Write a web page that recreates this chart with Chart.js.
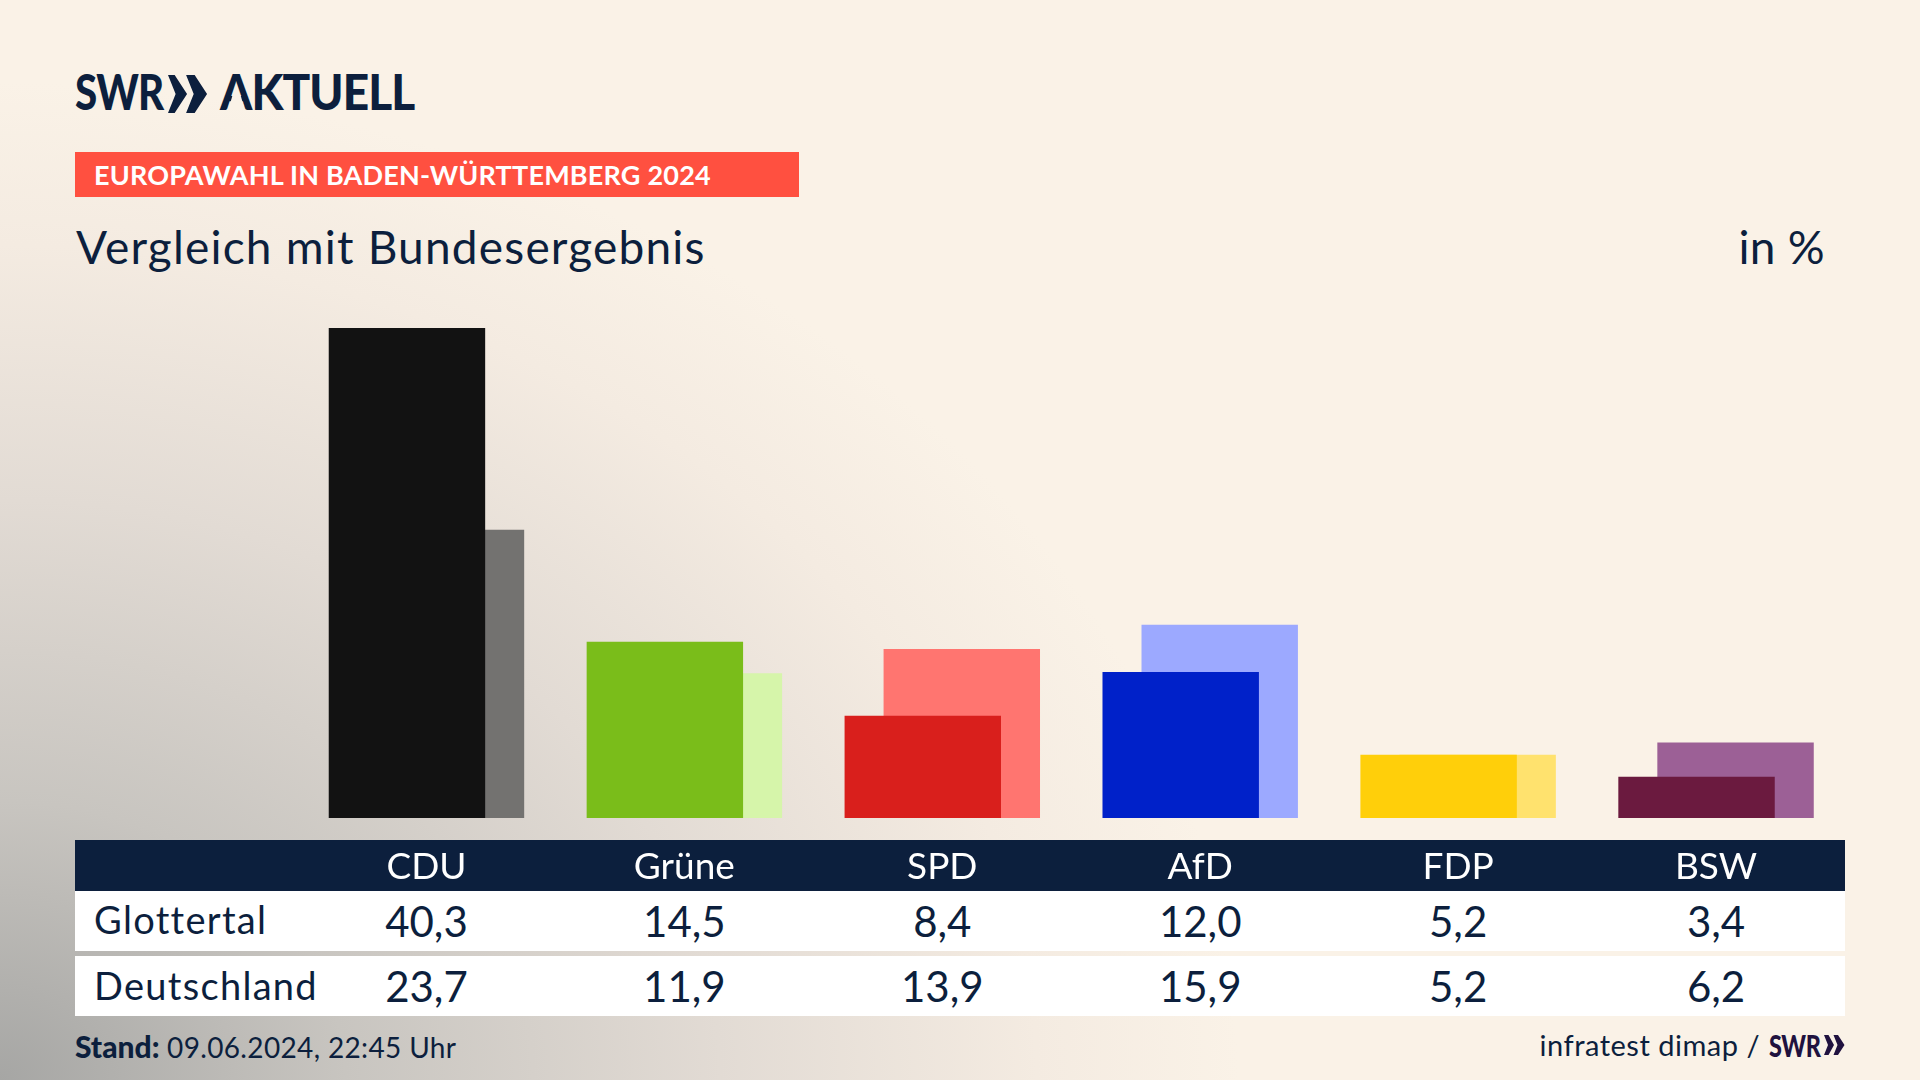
<!DOCTYPE html>
<html lang="de"><head><meta charset="utf-8">
<script src="https://cdn.jsdelivr.net/npm/chart.js@4"></script>
<style>
html,body{margin:0;padding:0;width:1920px;height:1080px;overflow:hidden}
body{position:relative;background:radial-gradient(ellipse 1440px 1160px at 0 100%,#a6a6a4 0,#c8c5c0 24%,#e2dbd4 50%,#f4ebe1 72%,#faf2e7 86%);font-family:Lato,sans-serif;color:#0c1f3d}
canvas{position:absolute;left:0;top:0;z-index:2}
.a{position:absolute;white-space:nowrap}
.band{position:absolute;left:75px;width:1770px}
.cell{position:absolute;transform:translateX(-50%);font-size:42px;line-height:50px;white-space:nowrap}
.sx{transform-origin:0 0}
</style></head><body>
<div class="a sx" style="left:75px;top:60px;font:900 50px/62px Lato,sans-serif;transform:scaleX(.806);letter-spacing:-1px">SWR</div>
<svg class="a" width="40" height="40" viewBox="0 0 42 40" style="left:168px;top:74px"><path fill="#0c1f3d" d="M0 0 L7 0 L20 20 L7 40 L0 40 L8 20Z M19 0 L28 0 L41 20 L28 40 L19 40 L27 20Z"/></svg>
<div class="a sx" style="left:220px;top:60px;font:900 50px/62px Lato,sans-serif;transform:scaleX(.92);letter-spacing:-1px"><span style="position:relative;display:inline-block">A<i style="position:absolute;left:9px;top:35px;width:18px;height:15px;background:#faf2e7;clip-path:polygon(26% 0,74% 0,100% 100%,0 100%)"></i></span>KTUELL</div>
<div class="a" style="left:75px;top:152px;width:724px;height:45px;background:#ff5040"></div>
<div class="a" style="left:94px;top:152px;font:700 27px/46px Lato,sans-serif;color:#fff;letter-spacing:.2px">EUROPAWAHL IN BADEN-WÜRTTEMBERG 2024</div>
<div class="a" id="title" style="left:76px;top:219px;font-size:46px;line-height:56px;letter-spacing:1.2px">Vergleich mit Bundesergebnis</div>
<div class="a" style="right:95px;top:219px;font-size:46px;line-height:56px;letter-spacing:.3px">in %</div>
<div class="band" style="top:840px;height:51px;background:#0c1f3d"></div>
<div class="band" style="top:891px;height:60px;background:#fff"></div>
<div class="band" style="top:956px;height:60px;background:#fff"></div>
<div class="a" id="r1" style="left:94px;top:894px;font-size:38px;line-height:50px;letter-spacing:1.3px"></div>
<div class="a" id="r2" style="left:94px;top:960px;font-size:38px;line-height:50px;letter-spacing:1.3px"></div>
<div id="cells"></div>
<div class="a" style="left:75px;top:1028px;font-size:28px;line-height:36px;letter-spacing:.35px"><b style="font-weight:900;font-size:30px;letter-spacing:0">Stand:</b> 09.06.2024, 22:45 Uhr</div>
<div class="a" style="right:160px;top:1027px;font-size:29px;line-height:36px;letter-spacing:.5px">infratest dimap /</div>
<div class="a sx" style="left:1769px;top:1027px;font:900 30px/36px Lato,sans-serif;color:#20123f;transform:scaleX(.78);letter-spacing:-.5px">SWR</div>
<svg class="a" width="21" height="24" viewBox="0 0 42 40" style="left:1824px;top:1033px"><path fill="#20123f" d="M0 0 L9 0 L20 20 L9 40 L0 40 L8 20Z M19 0 L28 0 L41 20 L28 40 L19 40 L27 20Z"/></svg>
<canvas id="c" width="1920" height="1080"></canvas>
<script>
const parties=["CDU","Grüne","SPD","AfD","FDP","BSW"];
const seriesLocal="Glottertal";
const seriesNational="Deutschland";
const localValues=[40.3,14.5,8.4,12.0,5.2,3.4];
const nationalValues=[23.7,11.9,13.9,15.9,5.2,6.2];
const localColors=["#121212","#7abd1a","#d91f1c","#0021c9","#ffcf0a","#6b1a3f"];
const nationalColors=["#737270","#d6f5aa","#ff7570","#9ca9ff","#ffe26e","#9c6096"];

const chart=new Chart(document.getElementById('c'),{
  type:'bar',
  data:{labels:parties,datasets:[
    {label:seriesLocal,data:localValues,backgroundColor:localColors,borderWidth:0},
    {label:seriesNational,data:nationalValues,backgroundColor:nationalColors,borderWidth:0}
  ]},
  options:{
    responsive:false,animation:false,devicePixelRatio:1,
    categoryPercentage:0.3025,barPercentage:4.01,
    layout:{padding:{left:297.5,right:75,top:283,bottom:0}},
    plugins:{legend:{display:false},tooltip:{enabled:false},title:{display:false}},
    scales:{
      y:{display:false,min:0,max:44},
      x:{
        afterFit(s){s.height=262},
        grid:{display:false,drawTicks:false},border:{display:false},
        ticks:{color:'#fff',padding:27,maxRotation:0,autoSkip:false,font:{family:'Lato',size:37}}
      }
    }
  }
});
document.getElementById('r1').textContent=seriesLocal;
document.getElementById('r2').textContent=seriesNational;
const cells=document.getElementById('cells');
const fmt=v=>v.toFixed(1).replace('.',',');
[[localValues,896],[nationalValues,961]].forEach(([vals,top])=>{
  vals.forEach((v,i)=>{
    const d=document.createElement('div');d.className='cell';
    d.style.left=chart.scales.x.getPixelForTick(i)+'px';d.style.top=top+'px';
    d.textContent=fmt(v);cells.appendChild(d);
  });
});
</script>
</body></html>
